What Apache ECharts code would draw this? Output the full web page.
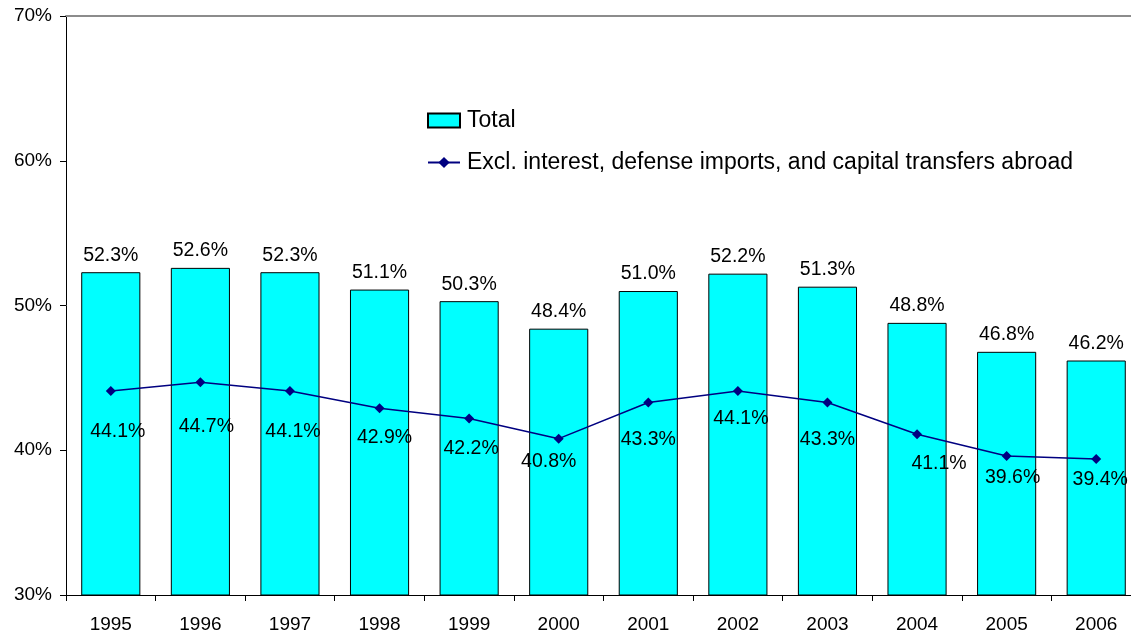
<!DOCTYPE html>
<html>
<head>
<meta charset="utf-8">
<script src="https://cdn.jsdelivr.net/npm/echarts@6/dist/echarts.min.js"></script>
<style>
  html, body { margin: 0; padding: 0; background: #fff; overflow: hidden; }
  #wrap { width: 1131px; height: 634px; overflow: hidden; }
  /* the plot runs slightly past the right edge of the page */
  #chart { width: 1142px; height: 634px; }
</style>
</head>
<body>
<div id="wrap"><div id="chart"></div></div>
<script>
// Years on the category axis
const years = ['1995', '1996', '1997', '1998', '1999', '2000', '2001', '2002', '2003', '2004', '2005', '2006'];
// Total spending share (%)
const totalShare = [52.3, 52.6, 52.3, 51.1, 50.3, 48.4, 51.0, 52.2, 51.3, 48.8, 46.8, 46.2];
// Share excluding interest, defense imports and capital transfers abroad (%)
const exclShare = [44.1, 44.7, 44.1, 42.9, 42.2, 40.8, 43.3, 44.1, 43.3, 41.1, 39.6, 39.4];
// Value axis ticks (%)
const yTicks = [30, 40, 50, 60, 70];

// Hand-placed label nudges for the line labels, in px from each point
const lineLabelNudge = [[7, 41], [6, 44], [3, 41], [5, 29], [2, 30], [-10, 23], [0, 37], [3, 28], [0, 37], [22, 29], [6, 22], [4, 21]];

const FONT = 'Liberation Sans, Arial, sans-serif';
const fmt = v => v.toFixed(1) + '%';

const chart = echarts.init(document.getElementById('chart'), null, { renderer: 'canvas' });

chart.setOption({
  animation: false,
  backgroundColor: '#ffffff',
  textStyle: { fontFamily: FONT },
  grid: { left: 66, right: 1, top: 16, bottom: 38, containLabel: false },
  legend: {
    orient: 'vertical',
    left: 427,
    top: 109,
    padding: 0,
    itemGap: 19,
    itemWidth: 32,
    itemHeight: 14,
    textStyle: { fontSize: 23, color: '#000', fontFamily: FONT, padding: [0, 0, 0, 2] },
    data: [
      { name: 'Total', icon: 'rect' },
      { name: 'Excl. interest, defense imports, and capital transfers abroad' }
    ]
  },
  xAxis: [
    {
      type: 'category',
      data: years,
      boundaryGap: true,
      axisLine: { lineStyle: { color: '#000', width: 1 } },
      axisTick: { show: true, length: 6, lineStyle: { color: '#000' } },
      axisLabel: { fontSize: 19, color: '#000', margin: 20, fontFamily: FONT }
    },
    {
      type: 'category',
      data: years,
      position: 'top',
      axisLine: { show: true, lineStyle: { color: '#8c8c8c', width: 2 } },
      axisTick: { show: false },
      axisLabel: { show: false }
    }
  ],
  yAxis: {
    type: 'value',
    min: yTicks[0],
    max: yTicks[yTicks.length - 1],
    interval: 10,
    axisLine: { show: true, lineStyle: { color: '#000', width: 1 } },
    axisTick: { show: true, length: 6, lineStyle: { color: '#000' } },
    splitLine: { show: false },
    axisLabel: {
      fontSize: 19, color: '#000', margin: 14, fontFamily: FONT,
      formatter: v => v + '%'
    }
  },
  series: [
    {
      name: 'Total',
      type: 'bar',
      data: totalShare,
      barWidth: '66%',
      itemStyle: { color: '#00ffff', borderColor: '#000', borderWidth: 1 },
      label: {
        show: true,
        position: 'top',
        distance: 7,
        fontSize: 19.5,
        color: '#000',
        fontFamily: FONT,
        formatter: p => fmt(p.value)
      },
      z: 2
    },
    {
      name: 'Excl. interest, defense imports, and capital transfers abroad',
      type: 'line',
      data: exclShare.map((v, i) => ({
        value: v,
        label: { offset: lineLabelNudge[i] }
      })),
      symbol: 'diamond',
      symbolSize: 10,
      lineStyle: { color: '#000080', width: 1.5 },
      itemStyle: { color: '#000080' },
      label: {
        show: true,
        position: 'inside',
        fontSize: 19.5,
        color: '#000',
        fontFamily: FONT,
        formatter: p => fmt(p.value)
      },
      z: 3
    }
  ]
});
</script>
</body>
</html>
